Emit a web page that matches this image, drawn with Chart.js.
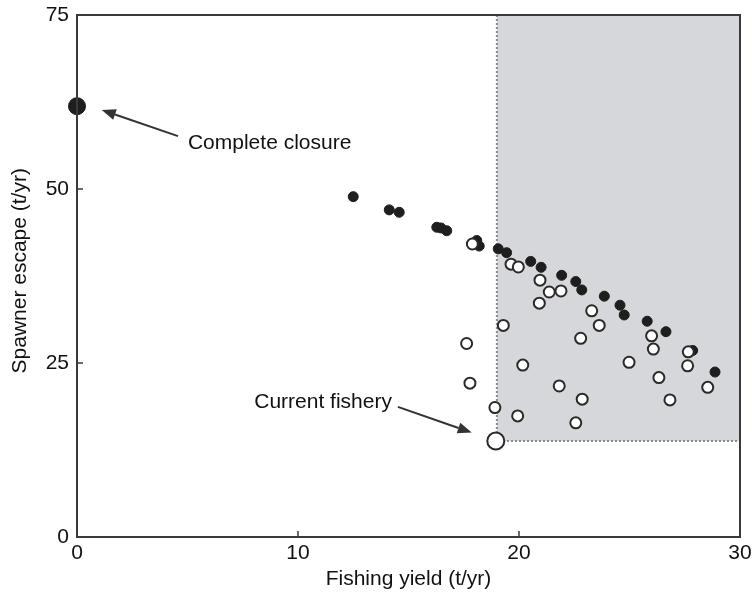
<!DOCTYPE html>
<html>
<head>
<meta charset="utf-8">
<script src="https://cdn.jsdelivr.net/npm/chart.js@4.4.1/dist/chart.umd.min.js"></script>
<style>
  html, body { margin: 0; padding: 0; background: #fff; }
  #wrap { width: 752px; height: 602px; }
</style>
</head>
<body>
<div id="wrap"><canvas id="scatter"></canvas></div>
<script>
// strategies that stay in the shaded zone and the rest
const filledX = [12.5, 14.13, 14.58, 16.28, 16.47, 16.73, 18.09, 18.2, 19.06, 19.44, 20.53, 21.0, 21.93, 22.57, 22.84, 23.86, 24.57, 24.76, 25.8, 26.65, 27.86, 28.87];
const filledY = [48.9, 47.0, 46.65, 44.5, 44.4, 44.0, 42.6, 41.8, 41.4, 40.85, 39.6, 38.75, 37.6, 36.7, 35.5, 34.6, 33.3, 31.9, 31.0, 29.5, 26.8, 23.7];

const openX = [17.89, 19.64, 19.97, 20.95, 21.37, 21.9, 20.92, 23.29, 23.63, 19.29, 22.79, 26.0, 26.08, 27.66, 27.63, 28.54, 24.98, 26.33, 26.83, 17.63, 17.78, 20.17, 21.82, 22.86, 18.91, 19.94, 22.57];
const openY = [42.1, 39.2, 38.8, 36.9, 35.2, 35.35, 33.6, 32.5, 30.4, 30.4, 28.55, 28.9, 27.0, 26.6, 24.6, 21.5, 25.1, 22.9, 19.7, 27.8, 22.1, 24.7, 21.7, 19.8, 18.6, 17.4, 16.4];

const closure = { x: 0, y: 61.9 };
const current = { x: 18.95, y: 13.8 };

// shaded target region
const shadeX = [19, 30];
const shadeY = [13.8, 75];

const xTicks = [0, 10, 20, 30];
const yTicks = [0, 25, 50, 75];

// annotation text and arrows (data units)
const notes = [
    { text: "Complete closure", x: 5.02, y: 56.6, align: "left", from: [4.57, 57.6], to: [1.12, 61.35] },
    { text: "Current fishery", x: 14.25, y: 19.3, align: "right", from: [14.52, 18.7], to: [17.86, 15.0] }
];

const FONT = "'Liberation Sans', Arial, Helvetica, sans-serif";
const FS = 21;
const INK = "#3a3a3a";

const toPts = (xs, ys) => xs.map((x, i) => ({ x: x, y: ys[i] }));

const extras = {
    id: "extras",
    beforeDatasetsDraw(chart) {
        const ctx = chart.ctx;
        const xs = chart.scales.x, ys = chart.scales.y;
        let l = xs.getPixelForValue(shadeX[0]), r = xs.getPixelForValue(shadeX[1]);
        let b = ys.getPixelForValue(shadeY[0]), t = ys.getPixelForValue(shadeY[1]);
        ctx.save();
        ctx.fillStyle = "#d6d7da";
        ctx.fillRect(l, t, r - l, b - t);
        ctx.strokeStyle = "#8a8a8a";
        ctx.lineWidth = 2;
        ctx.setLineDash([2, 2]);
        ctx.beginPath();
        ctx.moveTo(l, t);
        ctx.lineTo(l, b);
        ctx.lineTo(r, b);
        ctx.stroke();
        ctx.restore();
    },
    afterDatasetsDraw(chart) {
        const ctx = chart.ctx;
        const a = chart.chartArea;
        const xs = chart.scales.x, ys = chart.scales.y;
        ctx.save();
        // frame
        ctx.strokeStyle = INK;
        ctx.lineWidth = 2;
        ctx.strokeRect(a.left, a.top, a.right - a.left, a.bottom - a.top);
        // inner tick marks
        ctx.lineWidth = 1.5;
        ctx.beginPath();
        xTicks.slice(1, -1).forEach(v => {
            let p = xs.getPixelForValue(v);
            ctx.moveTo(p, a.bottom);
            ctx.lineTo(p, a.bottom - 6);
        });
        yTicks.slice(1, -1).forEach(v => {
            let p = ys.getPixelForValue(v);
            ctx.moveTo(a.left, p);
            ctx.lineTo(a.left + 6, p);
        });
        ctx.stroke();

        // y axis title, sits a little above the middle in the original
        ctx.save();
        ctx.translate(20, a.top + (a.bottom - a.top) * 0.49);
        ctx.rotate(-Math.PI / 2);
        ctx.fillStyle = "#111";
        ctx.font = FS + "px " + FONT;
        ctx.textAlign = "center";
        ctx.textBaseline = "middle";
        ctx.fillText("Spawner escape (t/yr)", 0, 0);
        ctx.restore();

        // annotations
        notes.forEach(n => {
            ctx.fillStyle = "#111";
            ctx.font = FS + "px " + FONT;
            ctx.textAlign = n.align;
            ctx.textBaseline = "middle";
            ctx.fillText(n.text, xs.getPixelForValue(n.x), ys.getPixelForValue(n.y));

            let x1 = xs.getPixelForValue(n.from[0]), y1 = ys.getPixelForValue(n.from[1]);
            let x2 = xs.getPixelForValue(n.to[0]), y2 = ys.getPixelForValue(n.to[1]);
            let ang = Math.atan2(y2 - y1, x2 - x1);
            let head = 14, wing = 5.5;
            let bx = x2 - head * Math.cos(ang), by = y2 - head * Math.sin(ang);
            ctx.strokeStyle = "#333";
            ctx.lineWidth = 2;
            ctx.beginPath();
            ctx.moveTo(x1, y1);
            ctx.lineTo(bx, by);
            ctx.stroke();
            ctx.fillStyle = "#333";
            ctx.beginPath();
            ctx.moveTo(x2, y2);
            ctx.lineTo(bx + wing * Math.sin(ang), by - wing * Math.cos(ang));
            ctx.lineTo(bx - wing * Math.sin(ang), by + wing * Math.cos(ang));
            ctx.closePath();
            ctx.fill();
        });
        ctx.restore();
    }
};

new Chart(document.getElementById("scatter").getContext("2d"), {
    type: "scatter",
    data: {
        datasets: [
            {
                label: "open",
                data: toPts(openX, openY),
                backgroundColor: "#ffffff",
                borderColor: "#2a2a2a",
                borderWidth: 2,
                pointRadius: 5.5
            },
            {
                label: "filled",
                data: toPts(filledX, filledY),
                backgroundColor: "#1e1e1e",
                borderColor: "#1e1e1e",
                borderWidth: 1,
                pointRadius: 5
            },
            {
                label: "closure",
                data: [closure],
                backgroundColor: "#1e1e1e",
                borderColor: "#1e1e1e",
                borderWidth: 1,
                pointRadius: 8.5,
                clip: false
            },
            {
                label: "current",
                data: [current],
                backgroundColor: "#ffffff",
                borderColor: "#2a2a2a",
                borderWidth: 2,
                pointRadius: 8.5,
                clip: false
            }
        ]
    },
    options: {
        responsive: true,
        maintainAspectRatio: false,
        animation: false,
        layout: { padding: { left: 0, right: 12, top: 15, bottom: 0 } },
        plugins: {
            legend: { display: false },
            tooltip: { enabled: false }
        },
        scales: {
            x: {
                type: "linear",
                min: xTicks[0],
                max: xTicks[xTicks.length - 1],
                afterBuildTicks: s => { s.ticks = xTicks.map(v => ({ value: v })); },
                afterFit: s => { s.height = 65; s.paddingLeft = 0; s.paddingRight = 0; },
                grid: { display: false, drawTicks: false },
                border: { display: false },
                ticks: { color: "#111", padding: 4, font: { family: FONT, size: FS } },
                title: {
                    display: true,
                    text: "Fishing yield (t/yr)",
                    color: "#111",
                    font: { family: FONT, size: FS },
                    padding: { top: 0, bottom: 10 }
                }
            },
            y: {
                type: "linear",
                min: yTicks[0],
                max: yTicks[yTicks.length - 1],
                afterBuildTicks: s => { s.ticks = yTicks.map(v => ({ value: v })); },
                afterFit: s => { s.width = 77; s.paddingTop = 0; s.paddingBottom = 0; },
                grid: { display: false, drawTicks: false },
                border: { display: false },
                ticks: { color: "#111", padding: 8, font: { family: FONT, size: FS } },
                title: { display: false }
            }
        }
    },
    plugins: [extras]
});
</script>
</body>
</html>
